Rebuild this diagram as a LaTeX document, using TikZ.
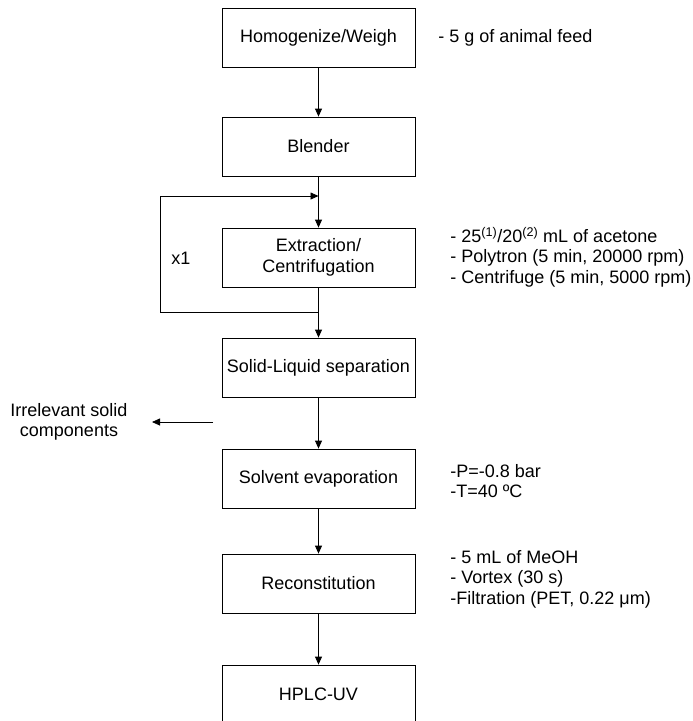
\documentclass[tikz,border=0pt]{standalone}
\usepackage{fontspec}
\setmainfont{Liberation Sans}
\usetikzlibrary{arrows.meta}
\tikzset{
  stepbox/.style={draw, minimum width=193pt, minimum height=59pt, inner sep=0pt, align=center},
  note/.style={anchor=west, align=left, inner sep=0pt},
  flow/.style={-{Triangle[length=8pt,width=7pt]}}
}
\begin{document}
\begin{tikzpicture}[x=1pt,y=-1pt,line width=0.8pt,font=\fontsize{18}{20.5}\selectfont]
\useasboundingbox (0,0) rectangle (693,721);
% process steps
\node[stepbox] (homog) at (318.5,37.5) {Homogenize/Weigh};
\node[stepbox] (blender) at (318.5,146.5) {Blender};
\node[stepbox] (extract) at (318.5,257.5) {Extraction/\\Centrifugation};
\node[stepbox] (solid) at (318.5,367.5) {Solid-Liquid separation};
\node[stepbox] (evap) at (318.5,478.5) {Solvent evaporation};
\node[stepbox] (recon) at (318.5,583.5) {Reconstitution};
\node[stepbox] (hplc) at (318.5,694.5) {HPLC-UV};
% conditions
\node[note] (feednote) at (438,37.5) {- 5 g of animal feed};
\node[note] (extractnote) at (450,257) {- 25\textsuperscript{(1)}/20\textsuperscript{(2)} mL of acetone\\- Polytron (5 min, 20000 rpm)\\- Centrifuge (5 min, 5000 rpm)};
\node[note] (evapnote) at (450,481) {-P=-0.8 bar\\-T=40 ºC};
\node[note] (reconnote) at (450,579) {- 5 mL of MeOH\\- Vortex (30 s)\\-Filtration (PET, 0.22 μm)};
% main flow
\draw[flow] (homog) -- (blender);
\draw[flow] (blender) -- (extract);
\draw[flow] (extract) -- (solid);
\draw[flow] (solid) -- (evap);
\draw[flow] (evap) -- (recon);
\draw[flow] (recon) -- (hplc);
% repeat loop
\coordinate (loopbot) at (318.5,312);
\coordinate (loopleft) at (160,312);
\coordinate (looptop) at (318.5,196);
\draw[flow] (loopbot) -- (loopleft) |- (looptop);
\node (repeat) at (181,258) {x1};
% solid waste
\coordinate (wastestart) at (213,422);
\coordinate (wasteend) at (152,422);
\draw[flow] (wastestart) -- (wasteend);
\node[align=center, inner sep=0pt] (waste) at (69,422) {Irrelevant solid\\components};
\end{tikzpicture}
\end{document}
